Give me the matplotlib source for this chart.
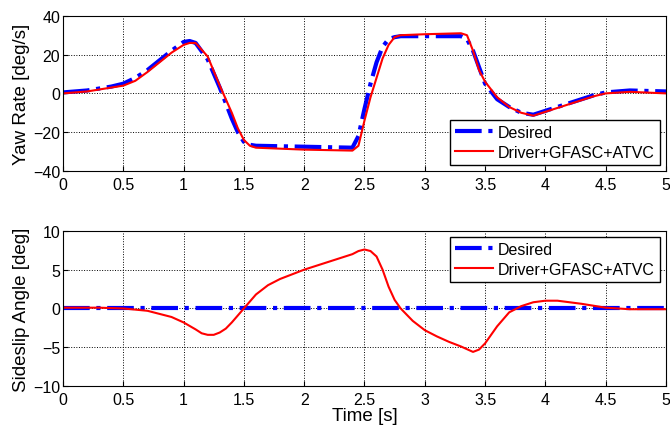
import numpy as np
import matplotlib.pyplot as plt

plt.rcParams['font.family'] = ['Liberation Sans', 'DejaVu Sans']

# yaw rate [deg/s]
t_yaw_des = [0, 0.2, 0.4, 0.5, 0.6, 0.7, 0.8, 0.9, 1.0, 1.05, 1.1, 1.2, 1.3, 1.4, 1.45, 1.5,
             1.55, 1.6, 2.0, 2.4, 2.45, 2.5, 2.55, 2.6, 2.65, 2.7, 2.75, 2.8, 3.0, 3.3, 3.35,
             3.4, 3.5, 3.6, 3.7, 3.8, 3.9, 4.0, 4.2, 4.4, 4.5, 4.7, 5.0]
yaw_des = [0.5, 1.5, 3.5, 5, 8, 12, 17, 22, 26.5, 27, 26, 17.5, 3, -13, -20, -25,
           -26.5, -27, -27.5, -28, -22, -8, 5, 16, 24, 28, 29, 29.5, 29.5, 29.5, 28,
           22, 5, -3, -7, -10, -11, -9, -5, -1, 0.5, 1.5, 1.0]
t_yaw_act = [0, 0.2, 0.4, 0.5, 0.6, 0.7, 0.8, 0.9, 1.0, 1.05, 1.1, 1.2, 1.3, 1.4, 1.45, 1.5,
             1.55, 1.6, 2.0, 2.4, 2.45, 2.5, 2.55, 2.6, 2.65, 2.7, 2.75, 2.8, 3.0, 3.3, 3.35,
             3.4, 3.45, 3.5, 3.55, 3.6, 3.7, 3.8, 3.9, 4.0, 4.2, 4.4, 4.5, 4.7, 5.0]
yaw_act = [0, 1, 3, 4, 6.5, 11, 16, 21, 25, 26, 26, 19, 4, -10, -18, -24,
           -27, -28, -29, -29.5, -27, -14, -2, 8, 18, 25, 29, 30, 30.5, 31, 30,
           22, 12, 6, 2, -2, -7, -10, -11.5, -9.5, -5.5, -1.5, 0, 0.8, 0]

# sideslip angle [deg]
t_beta = [0, 0.3, 0.5, 0.7, 0.9, 1.0, 1.1, 1.15, 1.2, 1.25, 1.3, 1.35, 1.4, 1.5, 1.6,
          1.7, 1.8, 2.0, 2.2, 2.4, 2.45, 2.5, 2.55, 2.6, 2.65, 2.7, 2.75, 2.8, 2.9, 3.0,
          3.1, 3.2, 3.3, 3.4, 3.45, 3.5, 3.6, 3.7, 3.8, 3.9, 4.0, 4.1, 4.2, 4.3, 4.5,
          4.7, 5.0]
beta_des = [0.0] * len(t_beta)
beta_act = [0.1, 0.1, 0, -0.3, -1.1, -1.8, -2.7, -3.2, -3.4, -3.4, -3.1, -2.6, -1.8, 0, 1.8,
            3, 3.8, 5, 6, 7, 7.4, 7.6, 7.4, 6.7, 5, 2.8, 1.1, 0, -1.6, -2.8,
            -3.6, -4.3, -4.9, -5.6, -5.3, -4.5, -2.3, -0.5, 0.3, 0.8, 1.0, 1.0, 0.8, 0.6, 0.1,
            -0.1, -0.1]

xticks = [0, 0.5, 1, 1.5, 2, 2.5, 3, 3.5, 4, 4.5, 5]
xticklabels = ['0', '0.5', '1', '1.5', '2', '2.5', '3', '3.5', '4', '4.5', '5']

fig = plt.figure(figsize=(6.7, 4.31), dpi=100)
ax1 = fig.add_axes([0.094, 0.601, 0.9, 0.36])
ax2 = fig.add_axes([0.094, 0.102, 0.9, 0.36])

ax1.plot(t_yaw_des, yaw_des, color='blue', ls='-.', lw=3, label='Desired')
ax1.plot(t_yaw_act, yaw_act, color='red', ls='-', lw=1.5, label='Driver+GFASC+ATVC')
ax1.set_ylim(-40, 40)
ax1.set_yticks([-40, -20, 0, 20, 40])
ax1.set_ylabel('Yaw Rate [deg/s]', fontsize=13.5)
ax1.legend(loc='lower right', fontsize=11.5, fancybox=False, edgecolor='black',
           framealpha=1, borderaxespad=0.4, handlelength=2.4, handletextpad=0.3,
           borderpad=0.3, labelspacing=0.3)

ax2.plot(t_beta, beta_des, color='blue', ls='-.', lw=3, label='Desired')
ax2.plot(t_beta, beta_act, color='red', ls='-', lw=1.5, label='Driver+GFASC+ATVC')
ax2.set_ylim(-10, 10)
ax2.set_yticks([-10, -5, 0, 5, 10])
ax2.set_ylabel('Sideslip Angle [deg]', fontsize=13.5)
ax2.set_xlabel('Time [s]', fontsize=13.5, labelpad=0)
ax2.legend(loc='upper right', fontsize=11.5, fancybox=False, edgecolor='black',
           framealpha=1, borderaxespad=0.4, handlelength=2.4, handletextpad=0.3,
           borderpad=0.3, labelspacing=0.3)

for ax in (ax1, ax2):
    ax.set_xlim(0, 5)
    ax.set_xticks(xticks)
    ax.set_xticklabels(xticklabels)
    ax.tick_params(direction='in', labelsize=11.5)
    ax.tick_params(axis='x', pad=4)
    ax.tick_params(axis='y', pad=2)
    ax.grid(True, color='black', ls=':', lw=0.7)
    ax.yaxis.labelpad = 2

fig.savefig('out.png', dpi=100)
